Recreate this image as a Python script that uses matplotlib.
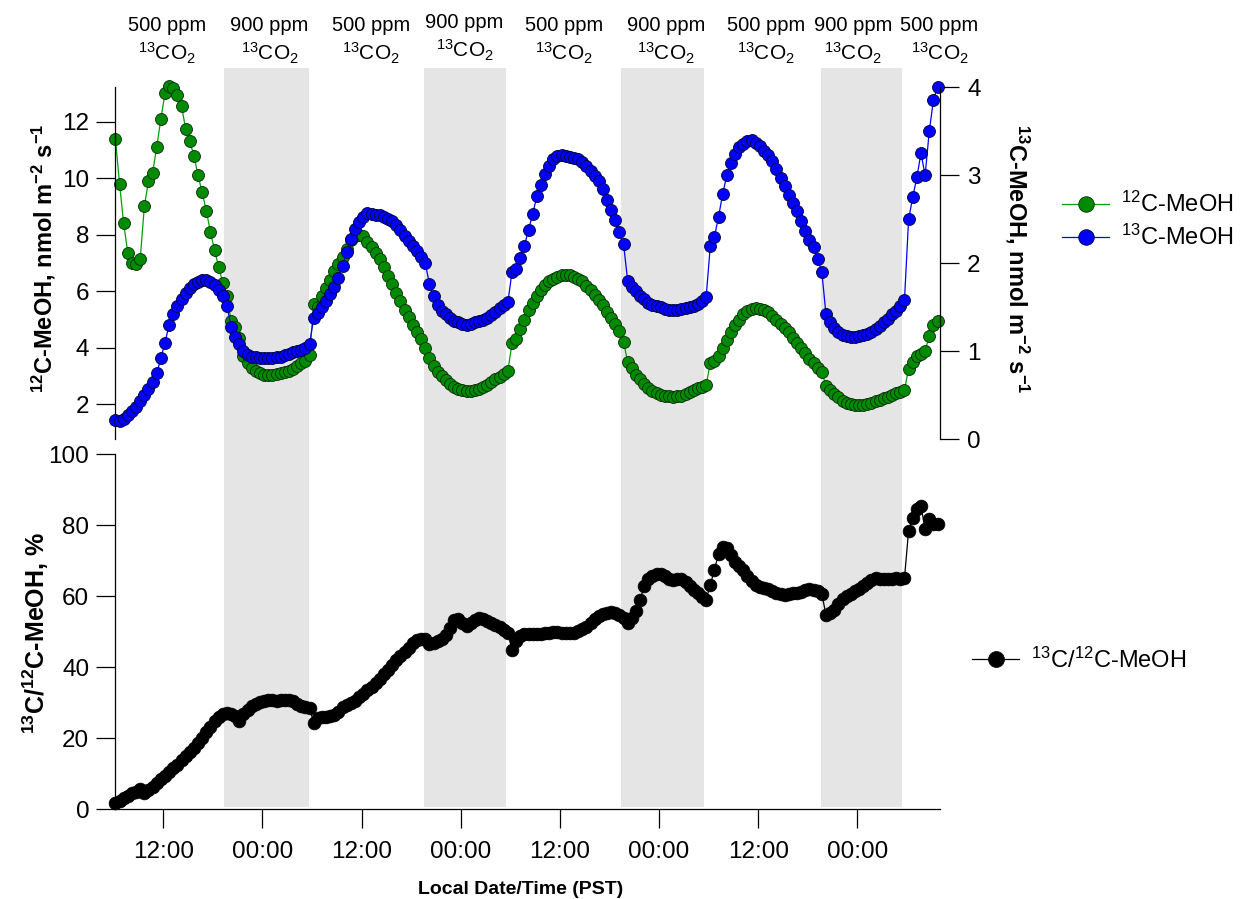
import numpy as np
import pandas as pd
import matplotlib
matplotlib.use("Agg")
import matplotlib.pyplot as plt
import matplotlib.dates as mdates
import matplotlib.transforms as mtransforms

plt.rcParams['font.family'] = ['Liberation Sans', 'DejaVu Sans']
plt.rcParams['mathtext.fontset'] = 'custom'
plt.rcParams['mathtext.rm'] = 'Liberation Sans'
plt.rcParams['mathtext.it'] = 'Liberation Sans:italic'
plt.rcParams['mathtext.bf'] = 'Liberation Sans:bold'

# half-hourly fluxes, first sample 06:12 PST
start = pd.Timestamp('2019-06-03 06:12')

meoh12 = [  # nmol m-2 s-1, left axis
    11.4, 9.8, 8.4, 7.35, 7.0, 6.95, 7.13, 9.0, 9.9, 10.2, 11.1, 12.1,
    13.0, 13.25, 13.2, 12.95, 12.55, 11.75, 11.3, 10.8, 10.1, 9.5, 8.85, 8.1,
    7.45, 6.85, 6.3, 5.85, 4.95, 4.75, 4.35, 3.7, 3.45, 3.3, 3.17, 3.1,
    3.05, 3.03, 3.05, 3.08, 3.1, 3.13, 3.17, 3.25, 3.35, 3.45, 3.55, 3.75,
    5.55, 5.45, 5.85, 6.1, 6.4, 6.7, 6.95, 7.2, 7.5, 7.8, 7.95, 8.0,
    7.95, 7.75, 7.55, 7.35, 7.15, 6.85, 6.55, 6.25, 5.95, 5.65, 5.35, 5.1,
    4.8, 4.55, 4.3, 4.0, 3.65, 3.35, 3.15, 3.0, 2.85, 2.72, 2.62, 2.55,
    2.5, 2.47, 2.47, 2.49, 2.53, 2.6, 2.68, 2.78, 2.88, 2.98, 3.08, 3.18,
    4.16, 4.3, 4.65, 5.0, 5.35, 5.6, 5.85, 6.05, 6.22, 6.35, 6.45, 6.52,
    6.56, 6.58, 6.57, 6.52, 6.45, 6.35, 6.2, 6.05, 5.87, 5.68, 5.5, 5.28,
    5.05, 4.83, 4.58, 4.2, 3.5, 3.28, 3.05, 2.88, 2.72, 2.58, 2.47, 2.4,
    2.33, 2.3, 2.28, 2.27, 2.28, 2.31, 2.36, 2.42, 2.49, 2.56, 2.63, 2.7,
    3.45, 3.55, 3.7, 4.0, 4.28, 4.55, 4.8, 5.0, 5.18, 5.3, 5.36, 5.4,
    5.38, 5.33, 5.25, 5.12, 4.99, 4.85, 4.7, 4.55, 4.35, 4.16, 3.98, 3.8,
    3.62, 3.45, 3.3, 3.15, 2.65, 2.5, 2.38, 2.25, 2.12, 2.05, 2.01, 1.99,
    1.98, 1.99, 2.02, 2.06, 2.11, 2.16, 2.21, 2.27, 2.33, 2.39, 2.45, 2.52,
    3.25, 3.5, 3.7, 3.78, 3.9, 4.4, 4.8, 4.95,
]

meoh13 = [  # nmol m-2 s-1, right axis
    0.22, 0.21, 0.23, 0.28, 0.32, 0.37, 0.43, 0.5, 0.57, 0.65, 0.75, 0.92,
    1.1, 1.3, 1.42, 1.52, 1.6, 1.66, 1.72, 1.76, 1.79, 1.81, 1.81, 1.79,
    1.75, 1.7, 1.63, 1.52, 1.28, 1.16, 1.08, 1.0, 0.96, 0.94, 0.93, 0.92,
    0.92, 0.92, 0.92, 0.93, 0.94, 0.96, 0.97, 0.99, 1.0, 1.02, 1.04, 1.08,
    1.38, 1.43, 1.5, 1.57, 1.65, 1.73, 1.83, 1.97, 2.13, 2.28, 2.39, 2.47,
    2.53, 2.57, 2.56, 2.55, 2.55, 2.53, 2.5, 2.48, 2.43, 2.38, 2.31, 2.25,
    2.2, 2.14, 2.07, 2.0, 1.77, 1.63, 1.53, 1.46, 1.42, 1.38, 1.35, 1.33,
    1.31, 1.3, 1.31, 1.33, 1.34, 1.36, 1.38, 1.41, 1.45, 1.49, 1.53, 1.56,
    1.9, 1.94, 2.06, 2.2, 2.38, 2.56, 2.76, 2.89, 3.01, 3.11, 3.18, 3.22,
    3.23, 3.22, 3.21, 3.2, 3.18, 3.15, 3.1, 3.05, 2.99, 2.93, 2.84, 2.72,
    2.61, 2.49, 2.36, 2.22, 1.8, 1.73, 1.68, 1.63, 1.59, 1.55, 1.53, 1.51,
    1.5, 1.48, 1.47, 1.47, 1.47, 1.48, 1.49, 1.5, 1.52, 1.54, 1.57, 1.62,
    2.2, 2.3, 2.53, 2.79, 3.0, 3.14, 3.24, 3.32, 3.36, 3.39, 3.4, 3.37,
    3.33, 3.28, 3.23, 3.16, 3.07, 2.97, 2.88, 2.78, 2.69, 2.59, 2.48, 2.37,
    2.27, 2.18, 2.05, 1.9, 1.42, 1.33, 1.27, 1.22, 1.19, 1.17, 1.16, 1.16,
    1.17, 1.18, 1.2, 1.22, 1.25, 1.29, 1.33, 1.37, 1.42, 1.46, 1.51, 1.58,
    2.5, 2.75, 2.98, 3.25, 3.0, 3.5, 3.85, 4.0,
]

ratio = [  # 13C/12C-MeOH, %
    1.7, 2.4, 3.1, 3.8, 4.5, 5.0, 5.6, 4.6, 5.3, 6.2, 7.3, 8.4,
    9.5, 10.5, 11.5, 12.6, 13.8, 15.0, 16.2, 17.4, 18.7, 20.1, 21.7, 23.3,
    24.8, 26.1, 26.8, 27.0, 26.8, 26.2, 25.0, 26.8, 28.1, 29.0, 29.7, 30.2,
    30.6, 30.8, 30.7, 30.6, 30.7, 30.8, 30.8, 30.4, 29.8, 29.2, 28.8, 28.4,
    24.4, 25.6, 26.0, 26.1, 26.2, 26.5, 27.5, 28.7, 29.3, 29.9, 30.6, 31.5,
    32.6, 33.5, 34.5, 35.6, 36.8, 38.0, 39.3, 40.7, 42.0, 43.1, 44.3, 45.5,
    46.8, 47.6, 47.9, 48.1, 46.5, 46.8, 47.3, 47.9, 49.0, 51.0, 53.3, 53.5,
    52.5, 51.5, 52.5, 53.3, 53.8, 53.5, 53.0, 52.5, 52.0, 51.3, 50.4, 49.6,
    45.0, 47.5, 48.8, 49.3, 49.4, 49.4, 49.5, 49.5, 49.6, 49.8, 50.0, 50.0,
    49.8, 49.7, 49.6, 49.6, 50.2, 50.8, 51.4, 52.4, 53.6, 54.4, 54.9, 55.4,
    55.6, 55.3, 54.8, 53.8, 52.4, 54.0, 55.8, 59.0, 62.9, 64.8, 65.8, 66.2,
    66.3, 65.6, 64.8, 64.6, 64.8, 64.9, 64.0, 62.8, 61.8, 60.8, 59.8, 59.0,
    63.2, 67.5, 72.0, 74.0, 73.5, 71.5, 69.8, 68.6, 67.4, 65.8, 64.2, 63.2,
    62.6, 62.3, 62.0, 61.6, 61.0, 60.6, 60.5, 60.6, 60.8, 61.0, 61.3, 61.8,
    62.1, 61.9, 61.5, 60.6, 54.8, 55.4, 56.2, 57.8, 59.2, 60.0, 60.7, 61.4,
    62.0, 62.8, 63.8, 64.7, 65.2, 64.9, 64.8, 64.9, 65.0, 65.1, 65.0, 65.1,
    78.5, 82.0, 84.5, 85.3, 79.0, 81.8, 80.5, 80.3,
]

# 900 ppm periods (grey bands)
nights = [
    ('2019-06-03 19:24', '2019-06-04 05:36'),
    ('2019-06-04 19:30', '2019-06-05 05:30'),
    ('2019-06-05 19:24', '2019-06-06 05:24'),
    ('2019-06-06 19:36', '2019-06-07 05:24'),
]

# treatment labels across the top
label_times = ['2019-06-03 12:27', '2019-06-04 00:52', '2019-06-04 13:08',
               '2019-06-05 00:28', '2019-06-05 12:30', '2019-06-06 00:51',
               '2019-06-06 12:57', '2019-06-06 23:29', '2019-06-07 09:57']
label_ppm = ['500 ppm', '900 ppm', '500 ppm', '900 ppm', '500 ppm',
             '900 ppm', '500 ppm', '900 ppm', '500 ppm']

t = start + pd.to_timedelta(np.arange(len(meoh12)) * 30, unit='min')
xmin = mdates.date2num(pd.Timestamp('2019-06-03 06:09').to_pydatetime())
xmax = mdates.date2num(pd.Timestamp('2019-06-07 10:00').to_pydatetime())

W, H = 1248, 899
fig = plt.figure(figsize=(W / 100, H / 100), dpi=100)

def px_box(x0, y0, x1, y1):
    return [x0 / W, 1 - y1 / H, (x1 - x0) / W, (y1 - y0) / H]

# background axis carrying the grey bands through both panels
ax0 = fig.add_axes(px_box(115, 68, 940, 807))
for a, b in nights:
    ax0.axvspan(pd.Timestamp(a), pd.Timestamp(b), color='#e5e5e5', lw=0)
ax0.set_xlim(xmin, xmax)
ax0.axis('off')

ax1 = fig.add_axes(px_box(115, 87.3, 940, 439.3))
ax1.set_facecolor('none')
ax2 = ax1.twinx()
ax2.set_facecolor('none')
ax3 = fig.add_axes(px_box(115, 454.3, 940, 809.3))
ax3.set_facecolor('none')

l12, = ax1.plot(t, meoh12, '-o', color='#00a000', lw=0.9, ms=8.6,
                mfc='#008a00', mec='#0a2a0a', mew=0.6, clip_on=False,
                label=r'$^{12}$C-MeOH')
l13, = ax2.plot(t, meoh13, '-o', color='#0000ff', lw=0.9, ms=8.6,
                mfc='#0000ff', mec='#000033', mew=0.6, clip_on=False,
                label=r'$^{13}$C-MeOH')
lr, = ax3.plot(t, ratio, '-o', color='black', lw=0.9, ms=9.2,
               mfc='black', mec='black', mew=0.5, clip_on=False,
               label=r'$^{13}$C/$^{12}$C-MeOH')

for ax in (ax1, ax2, ax3):
    ax.set_xlim(xmin, xmax)
    ax.tick_params(axis='y', direction='out', length=13.5, width=0.9,
                   labelsize=17.5, pad=5)
    for s in ax.spines.values():
        s.set_linewidth(0.9)

ax1.set_ylim(0.762, 13.217)
ax1.set_yticks([2, 4, 6, 8, 10, 12])
ax1.tick_params(axis='x', bottom=False, labelbottom=False)
for s in ('top', 'right', 'bottom'):
    ax1.spines[s].set_visible(False)

ax2.set_ylim(0, 4)
ax2.set_yticks([0, 1, 2, 3, 4])
ax2.tick_params(axis='y', pad=6)
ax2.tick_params(axis='x', bottom=False, labelbottom=False)
for s in ('top', 'left', 'bottom'):
    ax2.spines[s].set_visible(False)

ax3.set_ylim(0, 100)
ax3.set_yticks([0, 20, 40, 60, 80, 100])
ax3.xaxis.set_major_locator(mdates.HourLocator(byhour=[0, 12]))
ax3.xaxis.set_major_formatter(mdates.DateFormatter('%H:%M'))
ax3.tick_params(axis='x', direction='out', length=13.5, width=0.9,
                labelsize=17.5, pad=9)
for s in ('top', 'right'):
    ax3.spines[s].set_visible(False)

# axis titles
fig.text(58 / W, 1 - 258 / H,
         r'$^{\mathbf{12}}$C-MeOH, nmol m$^{\mathbf{-2}}$ s$^{\mathbf{-1}}$',
         rotation=90, ha='right', va='center', fontsize=17, fontweight='bold')
fig.text(1003 / W, 1 - 259 / H,
         r'$^{\mathbf{13}}$C-MeOH, nmol m$^{\mathbf{-2}}$ s$^{\mathbf{-1}}$',
         rotation=-90, ha='left', va='center', fontsize=17, fontweight='bold')
fig.text(51 / W, 1 - 633 / H, r'$^{\mathbf{13}}$C/$^{\mathbf{12}}$C-MeOH, %',
         rotation=90, ha='right', va='center', fontsize=18, fontweight='bold')
fig.text(521 / W, 1 - 894 / H, 'Local Date/Time (PST)', ha='center',
         va='baseline', fontsize=14, fontweight='bold')

# CO2 treatment labels
trans = mtransforms.blended_transform_factory(ax1.transData, fig.transFigure)
for k, (tt, ppm) in enumerate(zip(label_times, label_ppm)):
    xv = mdates.date2num(pd.Timestamp(tt).to_pydatetime())
    dy = 2.5 / H if k == 3 else 0
    ax1.text(xv, 1 - 30.7 / H + dy, ppm, transform=trans, ha='center',
             va='baseline', fontsize=14.5)
    ax1.text(xv, 1 - 60 / H + dy, r'$^{13}$CO$_2$', transform=trans,
             ha='center', va='baseline', fontsize=15)

fig.legend(handles=[l12, l13], loc='center left',
           bbox_to_anchor=(1062 / W, 1 - 221 / H), frameon=False, fontsize=17,
           markerscale=1.3, handlelength=2.0, handletextpad=0.5,
           labelspacing=0.35, borderpad=0, borderaxespad=0)
fig.legend(handles=[lr], loc='center left',
           bbox_to_anchor=(972 / W, 1 - 660 / H), frameon=False, fontsize=17,
           markerscale=1.25, handlelength=2.0, handletextpad=0.5,
           borderpad=0, borderaxespad=0)

fig.savefig('out.png', dpi=100)
